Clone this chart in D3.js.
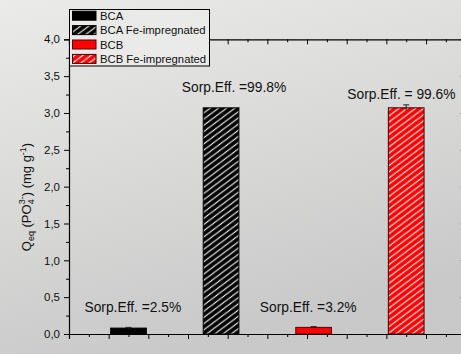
<!DOCTYPE html>
<html>
<head>
<meta charset="utf-8">
<script src="https://cdn.jsdelivr.net/npm/d3@7/dist/d3.min.js"></script>
<style>
  html, body { margin: 0; padding: 0; background: #dcdcdc; }
  svg { display: block; font-family: "Liberation Sans", Arial, sans-serif; }
</style>
</head>
<body>
<svg id="chart" width="461" height="354"></svg>
<script>
// Phosphate sorption capacity per adsorbent
const categories = ["BCA", "BCA Fe-impregnated", "BCB", "BCB Fe-impregnated"];
const qValues = [0.08, 3.07, 0.09, 3.07];
const qErrors = [0.01, 0.0, 0.01, 0.04];
const effLabels = ["Sorp.Eff. =2.5%", "Sorp.Eff. =99.8%", "Sorp.Eff. =3.2%", "Sorp.Eff. = 99.6%"];
const yTicks = [0, 0.5, 1.0, 1.5, 2.0, 2.5, 3.0, 3.5, 4.0];
const xTicks = [0, 1, 2, 3, 4, 5, 6, 7, 8, 9, 10];

const fills = ["#000000", "#000000", "#ff0000", "#ff0000"];
const strokes = ["#000000", "#000000", "#5a0000", "#3a0000"];
const hatched = [false, true, false, true];

const svg = d3.select("#chart");
const W = 461, H = 354;
const defs = svg.append("defs");

// background gradient
const grad = defs.append("linearGradient").attr("id", "bg")
  .attr("x1", 0).attr("y1", 0).attr("x2", 0.35).attr("y2", 1);
grad.append("stop").attr("offset", "0%").attr("stop-color", "#ebebe9");
grad.append("stop").attr("offset", "100%").attr("stop-color", "#c9c9c9");
svg.append("rect").attr("width", W).attr("height", H).attr("fill", "url(#bg)");

// diagonal hatch patterns
function hatch(id, color) {
  const p = defs.append("pattern").attr("id", id)
    .attr("patternUnits", "userSpaceOnUse").attr("width", 7).attr("height", 7)
    .attr("patternTransform", "rotate(8)");
  p.append("rect").attr("width", 7).attr("height", 7).attr("fill", color);
  p.append("path").attr("d", "M-1,8 L8,-1 M-4.5,4.5 L4.5,-4.5 M2.5,11.5 L11.5,2.5")
    .attr("stroke", "#ffffff").attr("stroke-width", 1.1);
}
hatch("hatchBlack", "#000000");
hatch("hatchRed", "#ff0000");
const fillFor = i => hatched[i] ? (fills[i] === "#000000" ? "url(#hatchBlack)" : "url(#hatchRed)") : fills[i];

const x = d3.scaleLinear().domain([0, 10]).range([69, 465.7]);
const y = d3.scaleLinear().domain([0, 4]).range([334, 39.3]);

const barCenter = i => 1.5 + i * 7 / 3;
const barWidth = 0.9;

// bars
svg.selectAll("rect.bar").data(qValues).join("rect")
  .attr("class", "bar")
  .attr("x", (d, i) => x(barCenter(i) - barWidth / 2))
  .attr("width", x(barWidth) - x(0))
  .attr("y", d => y(d))
  .attr("height", d => y(0) - y(d))
  .attr("fill", (d, i) => fillFor(i))
  .attr("stroke", (d, i) => strokes[i])
  .attr("stroke-width", 1);

// error bars
qValues.forEach((v, i) => {
  const e = qErrors[i];
  if (e <= 0) return;
  const cx = x(barCenter(i));
  const g = svg.append("g").attr("stroke", "#222").attr("stroke-width", 1);
  g.append("line").attr("x1", cx).attr("x2", cx).attr("y1", y(v - e)).attr("y2", y(v + e));
  g.append("line").attr("x1", cx - 3).attr("x2", cx + 3).attr("y1", y(v + e)).attr("y2", y(v + e));
});

// axes
const tickFmt = d => d3.format(".1f")(d).replace(".", ",");
const minorY = d3.range(0.25, 4, 0.5);
const minorX = d3.range(0.5, 10, 1);

svg.append("g").attr("transform", `translate(${x(0)},0)`)
  .call(d3.axisLeft(y).tickValues(yTicks).tickFormat(tickFmt).tickSize(5).tickPadding(4));
svg.append("g").attr("transform", `translate(${x(0)},0)`)
  .call(d3.axisLeft(y).tickValues(minorY).tickFormat("").tickSize(3))
  .select(".domain").remove();

svg.append("g").attr("transform", `translate(${x(10)},0)`)
  .call(d3.axisLeft(y).tickValues(yTicks).tickFormat("").tickSize(5));
svg.append("g").attr("transform", `translate(${x(10)},0)`)
  .call(d3.axisLeft(y).tickValues(minorY).tickFormat("").tickSize(3))
  .select(".domain").remove();

svg.append("g").attr("transform", `translate(0,${y(0)})`)
  .call(d3.axisBottom(x).tickValues(xTicks).tickFormat("").tickSize(5));
svg.append("g").attr("transform", `translate(0,${y(0)})`)
  .call(d3.axisBottom(x).tickValues(minorX).tickFormat("").tickSize(3))
  .select(".domain").remove();

svg.append("g").attr("transform", `translate(0,${y(4)})`)
  .call(d3.axisBottom(x).tickValues(xTicks).tickFormat("").tickSize(5));
svg.append("g").attr("transform", `translate(0,${y(4)})`)
  .call(d3.axisBottom(x).tickValues(minorX).tickFormat("").tickSize(3))
  .select(".domain").remove();

svg.selectAll(".domain").attr("stroke", "#000").attr("stroke-width", 1.2);
svg.selectAll(".tick line").attr("stroke", "#000").attr("stroke-width", 1);
svg.selectAll(".tick text").attr("font-size", "11.5px").attr("fill", "#111")
  .attr("font-family", "'Liberation Sans', Arial, sans-serif");
svg.selectAll("g").attr("font-family", null);

// efficiency annotations
const labelPos = [[1.61, 0.30], [4.16, 3.28], [6.03, 0.30], [8.38, 3.19]];
svg.selectAll("text.eff").data(effLabels).join("text")
  .attr("class", "eff")
  .attr("x", (d, i) => x(labelPos[i][0]))
  .attr("y", (d, i) => y(labelPos[i][1]))
  .attr("text-anchor", "middle")
  .attr("font-size", "13.8px")
  .attr("fill", "#111")
  .text(d => d);

// y-axis title
const title = svg.append("text")
  .attr("transform", "translate(31,197) rotate(-90)")
  .attr("text-anchor", "middle")
  .attr("font-size", "13px")
  .attr("fill", "#111");
title.append("tspan").text("Q");
title.append("tspan").attr("font-size", "9px").attr("dy", 3).text("eq");
title.append("tspan").attr("dy", -3).text("\u00a0(PO");
title.append("tspan").attr("font-size", "9px").attr("dy", 3).text("4");
title.append("tspan").attr("font-size", "9px").attr("dx", -5).attr("dy", -9).text("3-");
title.append("tspan").attr("dy", 6).text(")\u00a0(mg g");
title.append("tspan").attr("font-size", "9px").attr("dy", -5).text("-1");
title.append("tspan").attr("dy", 5).text(")");

// legend
const legend = svg.append("g");
legend.append("rect").attr("x", 69.5).attr("y", 9.5).attr("width", 140).attr("height", 56.5)
  .attr("fill", "#eaeae8").attr("stroke", "#000").attr("stroke-width", 1);
categories.forEach((c, i) => {
  const cy = 15.7 + i * 14.4;
  legend.append("rect").attr("x", 72.5).attr("y", cy - 4.5).attr("width", 23.5).attr("height", 9)
    .attr("fill", fillFor(i)).attr("stroke", strokes[i]).attr("stroke-width", 1);
  legend.append("text").attr("x", 100).attr("y", cy + 4)
    .attr("font-size", "11.3px").attr("fill", "#111").text(c);
});
</script>
</body>
</html>
